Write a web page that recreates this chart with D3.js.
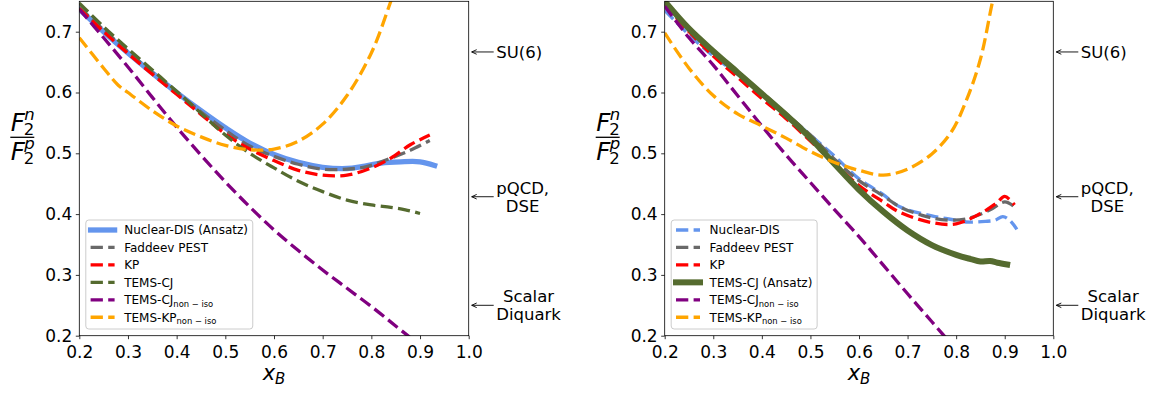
<!DOCTYPE html>
<html>
<head>
<meta charset="utf-8">
<script src="https://cdn.jsdelivr.net/npm/d3@7"></script>
<style>
  body { margin: 0; background: #fff; }
  svg { display: block; }
  text { font-family: "DejaVu Sans", sans-serif; fill: #000; }
</style>
</head>
<body>
<svg id="fig" width="1158" height="394"></svg>
<script>
// ---- axis ticks and domains ----
const xTicks = [0.2, 0.3, 0.4, 0.5, 0.6, 0.7, 0.8, 0.9, 1.0];
const yTicks = [0.2, 0.3, 0.4, 0.5, 0.6, 0.7];
const xDomain = [0.2, 1.0];
const yDomain = [0.2, 0.75];

// ---- theory limits marked at the right of each panel ----
const limitValues = [2 / 3, 3 / 7, 0.25];
const limitLabels = [["SU(6)"], ["pQCD,", "DSE"], ["Scalar", "Diquark"]];

// ---- left panel: nuclear-DIS extraction as the ansatz ----
const leftNuclearDis = [[0.2,0.737],[0.25,0.700],[0.3,0.665],[0.35,0.632],[0.4,0.600],[0.45,0.570],[0.5,0.542],[0.55,0.517],[0.6,0.498],[0.65,0.485],[0.7,0.477],[0.75,0.475],[0.78,0.478],[0.82,0.484],[0.86,0.486],[0.9,0.486],[0.93,0.480]];
const leftFaddeev = [[0.2,0.740],[0.25,0.703],[0.3,0.667],[0.35,0.633],[0.4,0.600],[0.45,0.568],[0.5,0.538],[0.55,0.512],[0.6,0.495],[0.65,0.482],[0.7,0.474],[0.75,0.474],[0.79,0.478],[0.83,0.489],[0.88,0.505],[0.92,0.521]];
const leftKP = [[0.2,0.738],[0.25,0.700],[0.3,0.664],[0.35,0.630],[0.4,0.597],[0.45,0.564],[0.5,0.532],[0.55,0.507],[0.6,0.488],[0.65,0.472],[0.7,0.464],[0.75,0.464],[0.8,0.476],[0.84,0.492],[0.88,0.514],[0.92,0.530]];
const leftTemsCJ = [[0.2,0.747],[0.25,0.708],[0.3,0.672],[0.35,0.637],[0.4,0.602],[0.45,0.566],[0.5,0.530],[0.55,0.500],[0.6,0.476],[0.65,0.454],[0.7,0.437],[0.75,0.423],[0.8,0.415],[0.84,0.411],[0.87,0.407],[0.9,0.401]];
const leftTemsCJNonIso = [[0.2,0.737],[0.25,0.690],[0.3,0.642],[0.35,0.592],[0.4,0.543],[0.45,0.497],[0.5,0.453],[0.55,0.412],[0.6,0.374],[0.65,0.340],[0.7,0.308],[0.75,0.278],[0.8,0.248],[0.85,0.216],[0.9,0.184]];
const leftTemsKPNonIso = [[0.2,0.690],[0.25,0.640],[0.28,0.612],[0.3,0.600],[0.35,0.570],[0.4,0.545],[0.45,0.527],[0.5,0.513],[0.55,0.506],[0.6,0.507],[0.65,0.520],[0.7,0.548],[0.75,0.595],[0.8,0.665],[0.84,0.750],[0.87,0.820]];

// ---- right panel: TEMS-CJ as the ansatz ----
const rightNuclearDis = [[0.2,0.735],[0.25,0.695],[0.3,0.660],[0.35,0.630],[0.4,0.597],[0.45,0.563],[0.5,0.530],[0.55,0.495],[0.6,0.458],[0.65,0.432],[0.684,0.412],[0.75,0.397],[0.8,0.390],[0.82,0.387],[0.86,0.388],[0.88,0.390],[0.896,0.396],[0.91,0.390],[0.925,0.375]];
const rightFaddeev = [[0.2,0.752],[0.25,0.705],[0.3,0.665],[0.35,0.632],[0.4,0.600],[0.45,0.565],[0.5,0.530],[0.55,0.490],[0.6,0.455],[0.65,0.430],[0.684,0.412],[0.73,0.398],[0.77,0.391],[0.82,0.392],[0.87,0.407],[0.9,0.420],[0.92,0.412]];
const rightKP = [[0.2,0.745],[0.25,0.700],[0.3,0.660],[0.35,0.625],[0.4,0.590],[0.45,0.557],[0.5,0.520],[0.55,0.483],[0.6,0.447],[0.65,0.420],[0.684,0.403],[0.75,0.386],[0.8,0.384],[0.85,0.401],[0.883,0.418],[0.9,0.429],[0.92,0.415]];
const rightTemsCJ = [[0.2,0.750],[0.25,0.705],[0.3,0.668],[0.35,0.633],[0.4,0.598],[0.45,0.563],[0.5,0.525],[0.55,0.482],[0.6,0.440],[0.65,0.404],[0.7,0.373],[0.75,0.349],[0.8,0.333],[0.83,0.326],[0.85,0.322],[0.87,0.323],[0.885,0.320],[0.905,0.317]];
const rightTemsCJNonIso = [[0.2,0.742],[0.25,0.690],[0.3,0.645],[0.35,0.595],[0.4,0.545],[0.45,0.497],[0.5,0.452],[0.55,0.407],[0.6,0.363],[0.65,0.316],[0.7,0.269],[0.75,0.223],[0.8,0.177]];
const rightTemsKPNonIso = [[0.2,0.698],[0.25,0.640],[0.3,0.595],[0.35,0.565],[0.4,0.545],[0.45,0.525],[0.5,0.503],[0.55,0.485],[0.6,0.472],[0.65,0.464],[0.7,0.474],[0.75,0.499],[0.79,0.535],[0.82,0.585],[0.85,0.655],[0.875,0.750],[0.89,0.800]];

// ---- series names ----
const leftNames = ["Nuclear-DIS (Ansatz)", "Faddeev PEST", "KP", "TEMS-CJ", ["TEMS-CJ", "non \u2212 iso"], ["TEMS-KP", "non \u2212 iso"]];
const rightNames = ["Nuclear-DIS", "Faddeev PEST", "KP", "TEMS-CJ (Ansatz)", ["TEMS-CJ", "non \u2212 iso"], ["TEMS-KP", "non \u2212 iso"]];

// ---- styling ----
const colors = ["#6495ED", "#696969", "#FF0000", "#556B2F", "#800080", "#FFA500"];
const dashedWidth = 3.3;
const dashPattern = "12.3,5.3";

const svg = d3.select("#fig");

function drawPanel(cfg) {
  const g = svg.append("g");
  const x = d3.scaleLinear().domain(xDomain).range([cfg.left, cfg.right]);
  const y = d3.scaleLinear().domain(yDomain).range([cfg.bottom, cfg.top]);

  const clipId = "clip-" + cfg.id;
  svg.append("clipPath").attr("id", clipId)
    .append("rect")
    .attr("x", cfg.left).attr("y", cfg.top)
    .attr("width", cfg.right - cfg.left).attr("height", cfg.bottom - cfg.top);

  // curves
  const line = d3.line()
    .x(d => x(d[0])).y(d => y(d[1]))
    .curve(d3.curveCatmullRom.alpha(0.5));

  const curves = g.append("g").attr("clip-path", `url(#${clipId})`);
  cfg.series.forEach((s, i) => {
    curves.append("path")
      .attr("d", line(s))
      .attr("fill", "none")
      .attr("stroke", colors[i])
      .attr("stroke-width", i === cfg.solid ? cfg.solidWidth : dashedWidth)
      .attr("stroke-dasharray", i === cfg.solid ? null : dashPattern)
      .attr("stroke-linecap", i === cfg.solid ? "square" : "butt")
      .attr("stroke-linejoin", "round");
  });

  // axes
  const xAxis = d3.axisBottom(x).tickValues(xTicks).tickFormat(d3.format(".1f"))
    .tickSizeInner(3.5).tickSizeOuter(0).tickPadding(6.3);
  const yAxis = d3.axisLeft(y).tickValues(yTicks).tickFormat(d3.format(".1f"))
    .tickSizeInner(3.5).tickSizeOuter(0).tickPadding(3.5);

  const gx = g.append("g").attr("transform", `translate(0,${cfg.bottom})`).call(xAxis);
  const gy = g.append("g").attr("transform", `translate(${cfg.left},0)`).call(yAxis);
  [gx, gy].forEach(a => {
    a.attr("font-family", null);
    a.select(".domain").remove();
    a.selectAll(".tick line").attr("stroke", "#000").attr("stroke-width", 0.8);
    a.selectAll(".tick text").attr("font-size", 17).attr("fill", "#000");
  });

  // frame
  g.append("rect")
    .attr("x", cfg.left).attr("y", cfg.top)
    .attr("width", cfg.right - cfg.left).attr("height", cfg.bottom - cfg.top)
    .attr("fill", "none").attr("stroke", "#000").attr("stroke-width", 0.8);

  // x label: x_B
  const xl = g.append("text")
    .attr("x", (cfg.left + cfg.right) / 2).attr("y", 380)
    .attr("text-anchor", "middle").attr("font-size", 21);
  xl.append("tspan").attr("font-style", "italic").text("x");
  xl.append("tspan").attr("font-style", "italic").attr("font-size", 15).attr("dy", 4).text("B");

  // y label: F2n / F2p as a fraction
  const lx = cfg.left - 69;
  const yl = g.append("g");
  yl.append("line").attr("x1", lx).attr("x2", lx + 24)
    .attr("y1", 137.3).attr("y2", 137.3).attr("stroke", "#000").attr("stroke-width", 1.3);
  [["n", 131], ["p", 160]].forEach(([sup, base]) => {
    const t = yl.append("text").attr("x", lx + 0.5).attr("y", base).attr("font-size", 24.5);
    t.append("tspan").attr("font-style", "italic").text("F");
    t.append("tspan").attr("font-style", "italic").attr("font-size", 16.5)
      .attr("x", lx + 14).attr("dy", -11).text(sup);
    t.append("tspan").attr("font-size", 16.5)
      .attr("x", lx + 13.5).attr("dy", 15).text("2");
  });

  // limit markers with arrows
  limitValues.forEach((v, k) => {
    const yv = y(v);
    const head = cfg.right + 3;
    const tail = cfg.right + 25;
    g.append("path")
      .attr("d", `M${tail},${yv}H${head}M${head + 5},${yv - 2.3}L${head},${yv}L${head + 5},${yv + 2.3}`)
      .attr("fill", "none").attr("stroke", "#000").attr("stroke-width", 0.9);
    const lines = limitLabels[k];
    const t0 = cfg.right + 27.5;
    const fs = 16.5;
    const texts = lines.map((str, j) => g.append("text")
      .attr("font-size", fs)
      .attr("y", yv + (j - (lines.length - 1) / 2) * 18 + fs * 0.36)
      .text(str));
    const widths = texts.map(t => t.node().getComputedTextLength());
    const maxW = d3.max(widths);
    texts.forEach((t, j) => t.attr("x", t0 + (maxW - widths[j]) / 2));
  });

  // legend
  const lg = g.append("g");
  const boxX = cfg.left + 6.5, boxY = 220, rowH = 17.45, fs = 12;
  const box = lg.append("rect")
    .attr("x", boxX).attr("y", boxY).attr("rx", 3).attr("ry", 3)
    .attr("height", 109)
    .attr("fill", "#fff").attr("fill-opacity", 0.8)
    .attr("stroke", "#cccccc").attr("stroke-width", 1);
  let maxTW = 0;
  cfg.names.forEach((name, i) => {
    const cy = boxY + 10 + rowH * i;
    lg.append("line")
      .attr("x1", boxX + 4.8).attr("x2", boxX + 28.8)
      .attr("y1", cy).attr("y2", cy)
      .attr("stroke", colors[i])
      .attr("stroke-width", i === cfg.solid ? cfg.solidWidth : dashedWidth)
      .attr("stroke-dasharray", i === cfg.solid ? null : dashPattern)
      .attr("stroke-linecap", i === cfg.solid ? "square" : "butt");
    const t = lg.append("text").attr("x", boxX + 38.4).attr("y", cy + 4.3).attr("font-size", fs);
    if (Array.isArray(name)) {
      t.append("tspan").text(name[0]);
      t.append("tspan").attr("font-size", fs * 0.7).attr("dy", 2.9).text(name[1]);
    } else {
      t.text(name);
    }
    maxTW = Math.max(maxTW, t.node().getComputedTextLength());
  });
  box.attr("width", 38.4 + maxTW + 4.8);
}

drawPanel({
  id: "left", left: 79.3, right: 468.7, top: 1.3, bottom: 335.7,
  series: [leftNuclearDis, leftFaddeev, leftKP, leftTemsCJ, leftTemsCJNonIso, leftTemsKPNonIso],
  names: leftNames, solid: 0, solidWidth: 5.3
});
drawPanel({
  id: "right", left: 664.7, right: 1053.3, top: 1.3, bottom: 335.7,
  series: [rightNuclearDis, rightFaddeev, rightKP, rightTemsCJ, rightTemsCJNonIso, rightTemsKPNonIso],
  names: rightNames, solid: 3, solidWidth: 6
});
</script>
</body>
</html>
